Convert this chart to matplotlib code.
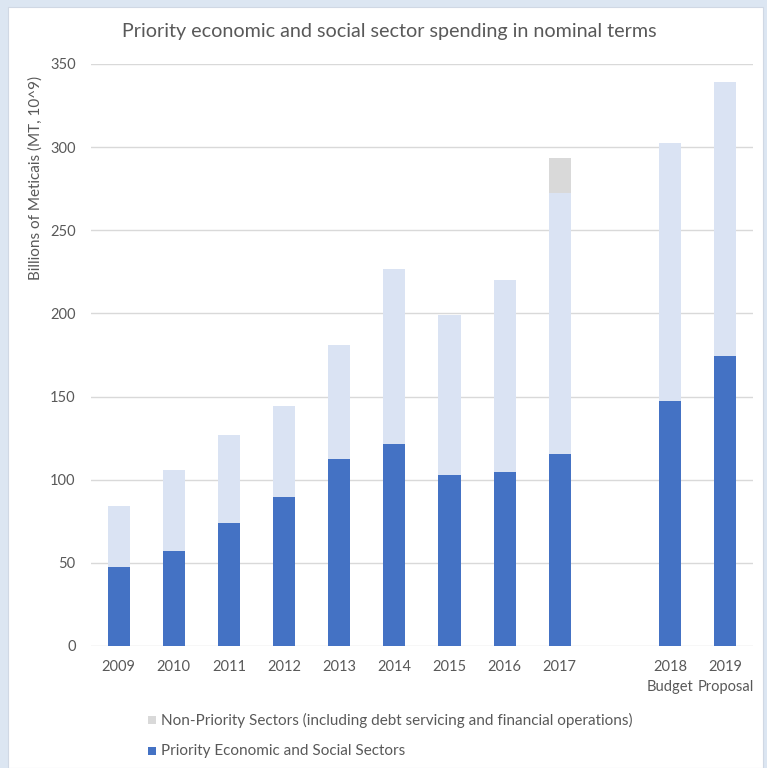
import numpy as np
import matplotlib
matplotlib.use('Agg')
import matplotlib.pyplot as plt
from matplotlib.patches import Rectangle

# Chart data (billions of MT), empty slot between 2017 and 2018
categories = ['2009', '2010', '2011', '2012', '2013', '2014', '2015',
              '2016', '2017', '', '2018\nBudget', '2019\nProposal']
priority = [47.3, 57, 74, 89.5, 112.7, 121.7, 103.1, 104.7, 115.3, 0, 147.3, 174.4]
non_priority = [37.0, 48.7, 52.7, 54.8, 68.5, 105.1, 96.1, 115.1, 157.0, 0, 155.0, 165.0]
other = [0, 0, 0, 0, 0, 0, 0, 0, 21.2, 0, 0, 0]
yticks = [0, 50, 100, 150, 200, 250, 300, 350]

dark_blue = '#4472c4'
light_blue = '#dae3f3'
grey_top = '#d9d9d9'
text_col = '#595959'

plt.rcParams['font.family'] = ['Lato', 'DejaVu Sans']

fig = plt.figure(figsize=(7.67, 7.68), dpi=100, facecolor='#dce6f2')
# white chart panel
fig.patches.append(Rectangle((8 / 767, 0), 1 - 12 / 767, 1 - 7 / 768,
                             transform=fig.transFigure, facecolor='white',
                             edgecolor='#d0d8e4', lw=0.8, zorder=-10))

ax = fig.add_axes([0.1186, 0.1589, 0.863, 0.7578])
x = np.arange(len(categories))
pr = np.array(priority)
npr = np.array(non_priority)
b1 = ax.bar(x, pr, width=0.4, color=dark_blue, zorder=3,
            label='Priority Economic and Social Sectors')
b2 = ax.bar(x, npr, width=0.4, bottom=pr, color=light_blue, zorder=3,
            label='Non-Priority Sectors (including debt servicing and financial operations)')
ax.bar(x, other, width=0.4, bottom=pr + npr, color=grey_top, zorder=3)

ax.set_xlim(-0.5, len(categories) - 0.5)
ax.set_ylim(0, 350)
ax.set_yticks(yticks)
ax.set_xticks(x)
ax.set_xticklabels(categories, linespacing=1.55)
ax.grid(axis='y', color='#d9d9d9', lw=1, zorder=0)
for s in ax.spines.values():
    s.set_visible(False)
ax.tick_params(axis='both', length=0, labelsize=10.5, labelcolor=text_col)
ax.tick_params(axis='y', pad=11)
ax.tick_params(axis='x', pad=10)
ax.set_facecolor('none')

fig.text(0.508, 1 - 32 / 768, 'Priority economic and social sector spending in nominal terms',
         ha='center', va='center', fontsize=14.2, color=text_col)
fig.text(36 / 767, 1 - 178 / 768, 'Billions of Meticais (MT, 10^9)', rotation=90,
         ha='center', va='center', fontsize=11, color=text_col)

# legend, one entry per row
leg_items = [(grey_top, b2.get_label(), 720), (dark_blue, b1.get_label(), 751)]
for col, lab, ypix in leg_items:
    fig.patches.append(Rectangle((148 / 767, 1 - (ypix + 4) / 768), 8 / 767, 8 / 768,
                                 transform=fig.transFigure, facecolor=col,
                                 edgecolor='none'))
    fig.text(161 / 767, 1 - ypix / 768, lab, ha='left', va='center',
             fontsize=11, color=text_col)

fig.savefig('out.png', dpi=100, facecolor=fig.get_facecolor())
